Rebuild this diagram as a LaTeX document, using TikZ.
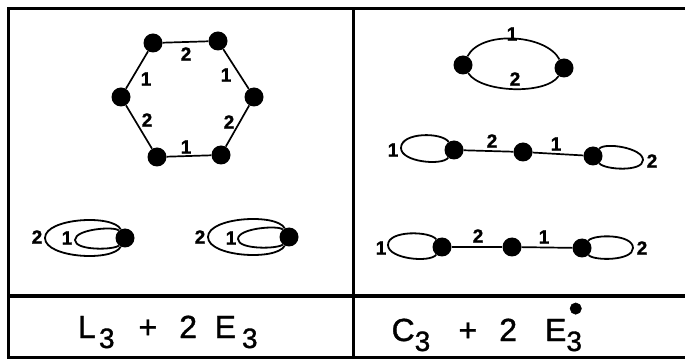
\documentclass[tikz,border=0pt]{standalone}
\usepackage{fontspec}
\setmainfont{Liberation Sans}
\newfontfamily\handfont[FakeBold=1.2]{Liberation Sans}
\newfontfamily\labfont[BoldFeatures={FakeBold=1.3}]{Liberation Sans}
\newcommand{\lowsub}[1]{\raisebox{-10pt}{\fontsize{28}{28}\selectfont #1}}
\newcommand{\bigdot}{\raisebox{18.5pt}{\fontsize{42}{42}\selectfont\textbullet}}
\begin{document}
\begin{tikzpicture}[x=1pt, y=-1pt,
		vx/.style  = {circle, fill=black, inner sep=0pt, minimum size=19},
		lab/.style = {font=\labfont\bfseries\fontsize{19}{19}\selectfont, inner sep=0pt},
		ln/.style  = {line width=1.7pt},
		lp/.style  = {line width=1.8pt},
		frm/.style = {line width=3pt},
		sum/.style = {font=\handfont\fontsize{32}{32}\selectfont, inner sep=0pt, anchor=base west}
		]
		\useasboundingbox (0,0) rectangle (685,363);
		
		%Frame
		\draw[frm]	(685,9) -- (8,9) -- (8,357) -- (685,357);
		\draw[frm, line width=4pt]	(8,296) -- (685,296);
		\draw[frm]	(353,9) -- (353,357);
		
		%Nodes
		\node[vx]	(h1)	at	(153,43)	{};
		\node[vx]	(h2)	at	(218,41)	{};
		\node[vx]	(h3)	at	(254,97)	{};
		\node[vx]	(h4)	at	(221,155)	{};
		\node[vx]	(h5)	at	(157,157)	{};
		\node[vx]	(h6)	at	(121,97)	{};
		
		\node[vx]	(a1)	at	(125,238)	{};
		\coordinate	(a1o)	at	(45,238);
		\coordinate	(a1i)	at	(75,240);
		\node[vx]	(a2)	at	(289,237)	{};
		\coordinate	(a2o)	at	(208,237);
		\coordinate	(a2i)	at	(238,239);
		
		\node[vx]	(p1)	at	(463,65)	{};
		\node[vx]	(p2)	at	(564,68)	{};
		
		\node[vx]	(d1)	at	(454,150)	{};
		\node[vx]	(d2)	at	(523,152)	{};
		\node[vx]	(d3)	at	(593,156)	{};
		\coordinate	(d1o)	at	(401,148);
		\coordinate	(d3o)	at	(643,160);
		
		\node[vx]	(e1)	at	(442,247)	{};
		\node[vx]	(e2)	at	(512,247)	{};
		\node[vx]	(e3)	at	(582,248)	{};
		\coordinate	(e1o)	at	(388,245);
		\coordinate	(e3o)	at	(633,248);
		
		%Labels
		\node[lab]	(th12)	at	(186,54)	{2};
		\node[lab]	(th23)	at	(226,75)	{1};
		\node[lab]	(th34)	at	(229,122)	{2};
		\node[lab]	(th45)	at	(186,147)	{1};
		\node[lab]	(th56)	at	(147,120)	{2};
		\node[lab]	(th61)	at	(146,79)	{1};
		
		\node[lab]	(ta1o)	at	(37,237)	{2};
		\node[lab]	(ta1i)	at	(67,238)	{1};
		\node[lab]	(ta2o)	at	(200,237)	{2};
		\node[lab]	(ta2i)	at	(231,238)	{1};
		
		\node[lab]	(tpu)	at	(512,34)	{1};
		\node[lab]	(tpd)	at	(515,79)	{2};
		
		\node[lab]	(td1)	at	(393,150)	{1};
		\node[lab]	(td12)	at	(492,141)	{2};
		\node[lab]	(td23)	at	(556,144)	{1};
		\node[lab]	(td3)	at	(652,161)	{2};
		
		\node[lab]	(te1)	at	(381,248)	{1};
		\node[lab]	(te12)	at	(478,236)	{2};
		\node[lab]	(te23)	at	(544,237)	{1};
		\node[lab]	(te3)	at	(642,248)	{2};
		
		%Sums
		\node[sum]	(sl)	at	(77.7,338)	{L\hspace{3.3pt}\lowsub{3}\hspace{24pt}+\hspace{22pt}2\hspace{17.6pt}E\hspace{6pt}\lowsub{3}};
		\node[sum]	(sr)	at	(391.4,341)	{C\lowsub{3}\hspace{28.3pt}+\hspace{22pt}2\hspace{28pt}E\rlap{\hspace{2pt}\bigdot}\lowsub{3}};
		
		%Lines
		\draw[ln]	(h1)	--	(h2);
		\draw[ln]	(h2)	--	(h3);
		\draw[ln]	(h3)	--	(h4);
		\draw[ln]	(h4)	--	(h5);
		\draw[ln]	(h5)	--	(h6);
		\draw[ln]	(h6)	--	(h1);
		
		\draw[lp]	(a1) .. controls +(-12,-24) and +(0,-20) .. (a1o) .. controls +(0,20) and +(-12,24) .. (a1);
		\draw[lp]	(a1) .. controls +(-10,-12) and +(0,-11) .. (a1i) .. controls +(0,11) and +(-10,12) .. (a1);
		\draw[lp]	(a2) .. controls +(-12,-24) and +(0,-20) .. (a2o) .. controls +(0,20) and +(-12,24) .. (a2);
		\draw[lp]	(a2) .. controls +(-10,-12) and +(0,-11) .. (a2i) .. controls +(0,11) and +(-10,12) .. (a2);
		
		\draw[ln]	(p1) .. controls +(18,-35) and +(-18,-34) .. (p2);
		\draw[ln]	(p1) .. controls +(18,28) and +(-18,27) .. (p2);
		
		\draw[ln]	(d1)	--	(d2);
		\draw[ln]	(d2)	--	(d3);
		\draw[lp]	(d1) .. controls +(-12,-18) and +(0,-16) .. (d1o) .. controls +(0,14) and +(-12,16) .. (d1);
		\draw[lp]	(d3) .. controls +(12,-14) and +(0,-12) .. (d3o) .. controls +(0,12) and +(12,14) .. (d3);
		
		\draw[ln]	(e1)	--	(e2);
		\draw[ln]	(e2)	--	(e3);
		\draw[lp]	(e1) .. controls +(-12,-16) and +(0,-15) .. (e1o) .. controls +(0,14) and +(-12,16) .. (e1);
		\draw[lp]	(e3) .. controls +(12,-14) and +(0,-14) .. (e3o) .. controls +(0,13) and +(12,13) .. (e3);
	\end{tikzpicture}
\end{document}
